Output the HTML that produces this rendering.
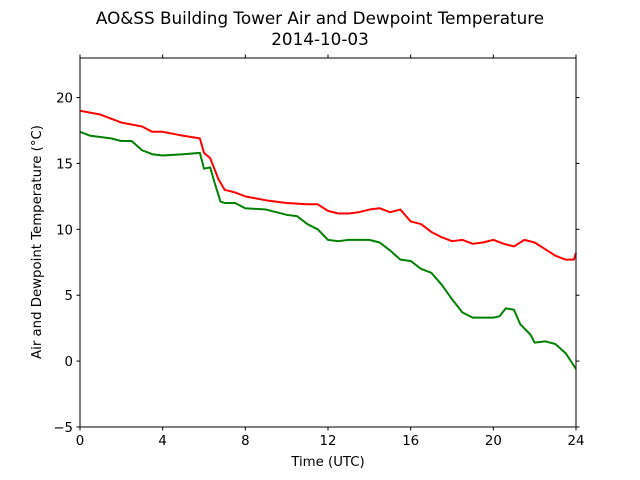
<!DOCTYPE html>
<html><head><meta charset="utf-8"><style>
body{margin:0;background:#fff;}
svg{display:block;font-family:"DejaVu Sans","Liberation Sans",sans-serif;}
</style></head><body>
<svg id="chart" width="640" height="480" viewBox="0 0 640 480">
<text x="320" y="24" font-size="16.8" text-anchor="middle">AO&amp;SS Building Tower Air and Dewpoint Temperature</text>
<text x="320" y="45" font-size="16.8" text-anchor="middle">2014-10-03</text>
<text x="328" y="466" font-size="13.3" text-anchor="middle">Time (UTC)</text>
<text transform="translate(41,242) rotate(-90)" font-size="13.3" text-anchor="middle">Air and Dewpoint Temperature (°C)</text>
<g id="plot"></g>
</svg>
<script>
const xTicks=[0,4,8,12,16,20,24];
const yTicks=[-5,0,5,10,15,20];
const airTime=[0,1,2,3,3.5,4,5,5.8,6.0,6.3,6.7,7,7.5,8,9,10,11,11.5,12,12.5,13,13.5,14,14.5,15,15.5,16,16.5,17,17.5,18,18.5,19,19.5,20,20.5,21,21.5,22,22.5,23,23.5,23.9,24];
const airTemp=[19.0,18.7,18.1,17.8,17.4,17.4,17.1,16.9,15.8,15.4,13.8,13.0,12.8,12.5,12.2,12.0,11.9,11.9,11.4,11.2,11.2,11.3,11.5,11.6,11.3,11.5,10.6,10.4,9.8,9.4,9.1,9.2,8.9,9.0,9.2,8.9,8.7,9.2,9.0,8.5,8.0,7.7,7.7,8.2];
const dewTime=[0,0.5,1.5,2,2.5,3,3.5,4,5,5.8,6.0,6.3,6.5,6.8,7,7.5,8,9,10,10.5,11,11.5,12,12.5,13,14,14.5,15,15.5,16,16.5,17,17.5,18,18.5,19,20,20.3,20.6,21,21.3,21.8,22,22.5,23,23.5,24];
const dewTemp=[17.4,17.1,16.9,16.7,16.7,16.0,15.7,15.6,15.7,15.8,14.6,14.7,13.6,12.1,12.0,12.0,11.6,11.5,11.1,11.0,10.4,10.0,9.2,9.1,9.2,9.2,9.0,8.4,7.7,7.6,7.0,6.7,5.8,4.7,3.7,3.3,3.3,3.4,4.0,3.9,2.8,2.0,1.4,1.5,1.3,0.6,-0.6];
const X0=80,X1=576,Y0=58,Y1=427,xmin=0,xmax=24,ymin=-5,ymax=23;
const sx=v=>X0+(v-xmin)/(xmax-xmin)*(X1-X0);
const sy=v=>Y1-(v-ymin)/(ymax-ymin)*(Y1-Y0);
const NS="http://www.w3.org/2000/svg";
const g=document.getElementById('plot');
function mk(t,a){const e=document.createElementNS(NS,t);for(const k in a)e.setAttribute(k,a[k]);g.appendChild(e);return e;}
function line(ts,vs,color,name){
  const p=mk('polyline',{points:ts.map((t,i)=>sx(t)+','+sy(vs[i])).join(' '),fill:'none',stroke:color,'stroke-width':2,'stroke-linejoin':'round'});
  
  
}
line(airTime,airTemp,'#ff0000','air-temperature-line');
line(dewTime,dewTemp,'#008000','dewpoint-temperature-line');
const fr=mk('rect',{x:X0,y:Y0,width:X1-X0,height:Y1-Y0,fill:'none',stroke:'#000','stroke-width':1});


xTicks.forEach(v=>{
  const x=sx(v);
  mk('line',{x1:x,x2:x,y1:Y1,y2:Y1+3.5,stroke:'#000'});
  mk('line',{x1:x,x2:x,y1:Y0,y2:Y0-3.5,stroke:'#000'});
  const t=mk('text',{x:x,y:Y1+18,'font-size':13.3,'text-anchor':'middle'});
  t.textContent=v;
  
  
});
yTicks.forEach(v=>{
  const y=sy(v);
  mk('line',{x1:X0,x2:X0-3.5,y1:y,y2:y,stroke:'#000'});
  mk('line',{x1:X1,x2:X1+3.5,y1:y,y2:y,stroke:'#000'});
  const t=mk('text',{x:X0-7,y:y+5,'font-size':13.3,'text-anchor':'end'});
  t.textContent=v<0?'\u2212'+(-v):v;
  
  
});
</script>
</body></html>
